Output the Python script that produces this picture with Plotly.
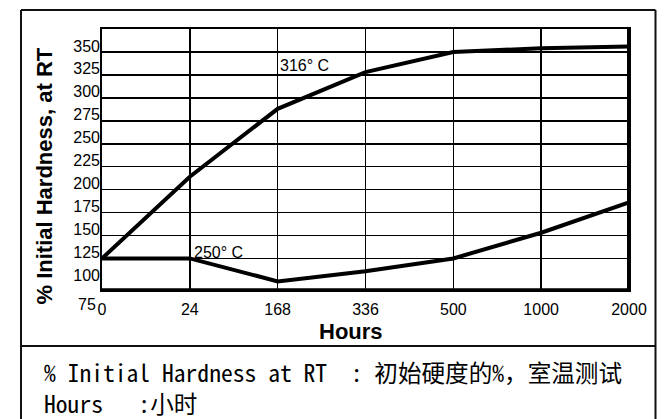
import plotly.graph_objects as go

# ---- data ----
hours = ["0", "24", "168", "336", "500", "1000", "2000"]
temp316 = [125, 214, 288, 328, 350, 354, 356]
temp250 = [125, 125, 100, 111, 125, 153, 186]
label316 = "316° C"
label250 = "250° C"
y_label_vals = [100, 125, 150, 175, 200, 225, 250, 275, 300, 325, 350]
y_label_text = [str(v) for v in y_label_vals]
y_grid_vals = [125, 150, 175, 200, 225, 250, 275, 300, 325, 350]
y_extra_label = "75"
y_range = [90.6, 375]
x_title = "Hours"
y_title = "% Initial Hardness, at RT"
note_line1 = "% Initial Hardness at RT  : 初始硬度的%，室温测试"
note_line2 = "Hours   :小时"

W, H = 671, 419
L, R, T, B = 102, 629, 29, 290
pw, ph = R - L, B - T


def px(x):
    return (x - L) / pw


def py(y):
    return (B - y) / ph


FONT = "Liberation Sans, Arial, sans-serif"
MONO = "Noto Sans Mono CJK SC, Liberation Mono, Noto Sans CJK SC, monospace"

fig = go.Figure()
fig.add_trace(go.Scatter(x=hours, y=temp316, mode="lines",
                         line=dict(color="black", width=4), cliponaxis=False))
fig.add_trace(go.Scatter(x=hours, y=temp250, mode="lines",
                         line=dict(color="black", width=4), cliponaxis=False))

fig.update_layout(
    width=W, height=H,
    margin=dict(l=L, r=W - R, t=T, b=H - B, pad=0),
    paper_bgcolor="white", plot_bgcolor="white",
    showlegend=False,
    font=dict(family=FONT, size=16, color="black"),
    xaxis=dict(type="category", range=[0, len(hours) - 1],
               showgrid=True, gridcolor="black", gridwidth=1.6,
               showline=True, linecolor="black", linewidth=2, mirror=True,
               ticks="", tickfont=dict(size=16), ticklabelstandoff=4,
               zeroline=False, fixedrange=True),
    yaxis=dict(range=y_range, tickmode="array", tickvals=y_grid_vals,
               showticklabels=False,
               showgrid=True, gridcolor="black", gridwidth=1.6,
               showline=True, linecolor="black", linewidth=2, mirror=True,
               ticks="", zeroline=False, fixedrange=True),
    yaxis2=dict(range=y_range, overlaying="y", side="left",
                tickmode="array", tickvals=y_label_vals, ticktext=y_label_text,
                showgrid=False, zeroline=False, showline=False, ticks="",
                tickfont=dict(size=16), ticklabelshift=-6, ticklabelstandoff=1,
                fixedrange=True),
)

# keep yaxis2 alive with an invisible trace
fig.add_trace(go.Scatter(x=[hours[0]], y=[y_label_vals[0]], yaxis="y2",
                         mode="markers", marker=dict(opacity=0),
                         hoverinfo="skip"))

FRAME = dict(color="#111", width=2)
shapes = [
    # outer frame (top, left, right) and divider
    dict(type="line", xref="paper", yref="paper", x0=px(21), x1=px(655.5),
         y0=py(10), y1=py(10), line=FRAME),
    dict(type="line", xref="paper", yref="paper", x0=px(21), x1=px(21),
         y0=py(10), y1=py(425), line=FRAME),
    dict(type="line", xref="paper", yref="paper", x0=px(655.5), x1=px(655.5),
         y0=py(10), y1=py(425), line=FRAME),
    dict(type="line", xref="paper", yref="paper", x0=px(21), x1=px(655.5),
         y0=py(346), y1=py(346), line=FRAME),
    # thick right / bottom plot borders
    dict(type="line", xref="paper", yref="paper", x0=1, x1=1, y0=0, y1=1,
         line=dict(color="black", width=4)),
    dict(type="line", xref="paper", yref="paper", x0=0, x1=1, y0=0, y1=0,
         line=dict(color="black", width=3.5)),
]
fig.update_layout(shapes=shapes)

ann = []
ann.append(dict(text=label316, x=hours.index("168"), y=335, xref="x", yref="y",
                xanchor="left", yanchor="middle", showarrow=False,
                font=dict(size=16), xshift=0))
ann.append(dict(text=label250, x=hours.index("24"), y=132, xref="x", yref="y",
                xanchor="left", yanchor="middle", showarrow=False,
                font=dict(size=16), xshift=2))
ann.append(dict(text=y_extra_label, x=0, y=py(304), xref="paper", yref="paper",
                xanchor="right", yanchor="middle", showarrow=False,
                font=dict(size=16), xshift=-4))
ann.append(dict(text="<b>%s</b>" % x_title, x=px(350.5), y=py(331),
                xref="paper", yref="paper", xanchor="center", yanchor="middle",
                showarrow=False, font=dict(size=22)))
ann.append(dict(text="<b>%s</b>" % y_title, x=px(44), y=py(176.5),
                xref="paper", yref="paper", xanchor="center", yanchor="middle",
                textangle=-90, showarrow=False, font=dict(size=22)))
ann.append(dict(text=note_line1, x=px(42), y=py(372), xref="paper", yref="paper",
                xanchor="left", yanchor="middle", showarrow=False,
                font=dict(family=MONO, size=23.6)))
ann.append(dict(text=note_line2, x=px(42), y=py(403), xref="paper", yref="paper",
                xanchor="left", yanchor="middle", showarrow=False,
                font=dict(family=MONO, size=23.6)))
fig.update_layout(annotations=ann)

fig.write_html("out.html",
               config={"displayModeBar": False, "staticPlot": True},
               post_script="document.body.style.margin='0';"
                           "document.body.style.overflow='hidden';")
